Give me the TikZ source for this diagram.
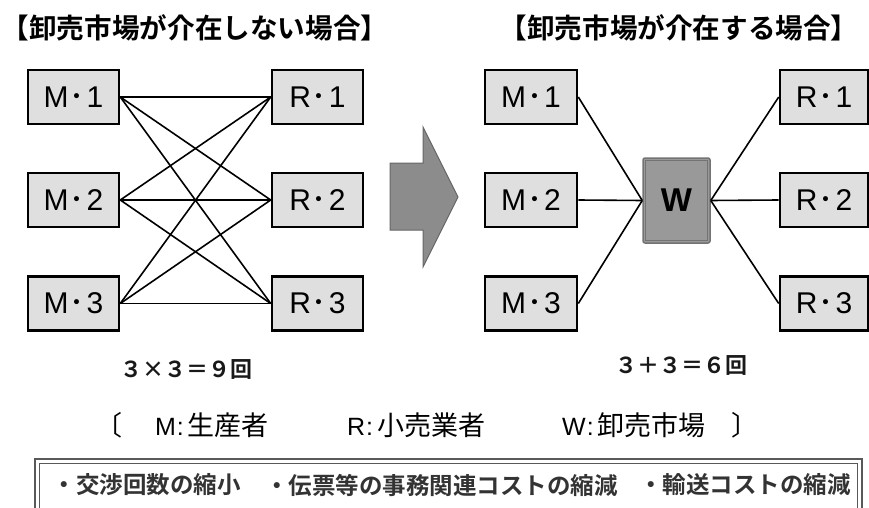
\documentclass[tikz,border=0pt]{standalone}
\usepackage{fontspec}
\newfontfamily\jp{Noto Sans CJK JP}
\newfontfamily\jpb{Noto Sans CJK JP Bold}
\newfontfamily\lat{Liberation Sans}
\newcommand{\lbl}[2]{{\lat\fontsize{30}{30}\selectfont #1}\kern1pt{\jp\fontsize{30}{30}\selectfont ･}\kern2pt{\lat\fontsize{30}{30}\selectfont #2}}
\begin{document}
\begin{tikzpicture}[x=1pt,y=-1pt,
  box/.style={draw=black,line width=2.6pt,fill=gray!25,minimum width=91pt,minimum height=54pt,inner sep=0pt},
  link/.style={draw=black,line width=1.6pt},
  title/.style={font=\jpb\fontsize{27.6}{30}\selectfont,inner sep=0pt},
  count/.style={font=\jpb\fontsize{22}{26}\selectfont,inner sep=0pt,text=black!90},
  legend/.style={font=\jp\fontsize{27}{28}\selectfont,inner sep=0pt},
  merit/.style={font=\jpb\fontsize{23.5}{26}\selectfont,inner sep=0pt,text=black!80}]
\useasboundingbox (0,0) rectangle (869,508);
\clip (0,0) rectangle (869,508);
% titles
\node[title] (t1) at (195,28) {【卸売市場が介在しない場合】};
\node[title] (t2) at (679,28) {【卸売市場が介在する場合】};
% left group
\node[box] (LM1) at (73.5,97) {\lbl{M}{1}};
\node[box] (LM2) at (73.5,200) {\lbl{M}{2}};
\node[box] (LM3) at (73.5,303.5) {\lbl{M}{3}};
\node[box] (LR1) at (317.5,97) {\lbl{R}{1}};
\node[box] (LR2) at (317.5,200) {\lbl{R}{2}};
\node[box] (LR3) at (317.5,303.5) {\lbl{R}{3}};
\foreach \i in {1,2,3}{\foreach \j in {1,2,3}{\draw[link] (LM\i.east) -- (LR\j.west);}}
% arrow
\filldraw[fill=black!45,draw=black!60,line width=1pt] (390,163) -- (423,163) -- (423,127) -- (458,197) -- (423,267) -- (423,230) -- (390,230) -- cycle;
% right group
\node[box,minimum width=92pt] (RM1) at (531,97) {\lbl{M}{1}};
\node[box,minimum width=92pt] (RM2) at (531,200) {\lbl{M}{2}};
\node[box,minimum width=92pt] (RM3) at (531,303.5) {\lbl{M}{3}};
\node[box,minimum width=88pt] (RR1) at (824,97) {\lbl{R}{1}};
\node[box,minimum width=88pt] (RR2) at (824,200) {\lbl{R}{2}};
\node[box,minimum width=88pt] (RR3) at (824,303.5) {\lbl{R}{3}};
\node[draw=black!55,line width=1.5pt,fill=black!40,rounded corners=2pt,minimum width=67pt,minimum height=85pt,inner sep=0pt,font=\lat\bfseries\fontsize{33}{34}\selectfont] (W) at (676.5,200.5) {W};
\draw[black!55,line width=1pt] ([shift={(3.5,3.5)}]W.north west) rectangle ([shift={(-3.5,-3.5)}]W.south east);
\foreach \i in {1,2,3}{\draw[link] (RM\i.east) -- (W.west); \draw[link] (W.east) -- (RR\i.west);}
% counts
\node[count] (c1) at (186,369) {３×３＝９回};
\node[count] (c2) at (681,365) {３＋３＝６回};
% legend
\node[legend] (lb) at (109,425) {〔};
\node[legend] (l1) at (212,425) {{\lat\fontsize{25}{28}\selectfont M\kern1pt:\kern4pt}生産者};
\node[legend] (l2) at (416,425) {{\lat\fontsize{25}{28}\selectfont R\kern1pt:\kern4pt}小売業者};
\node[legend] (l3) at (634,425) {{\lat\fontsize{25}{28}\selectfont W\kern1pt:\kern4pt}卸売市場};
\node[legend] (rb) at (745,425) {〕};
% merits box
\draw[black!65,line width=2pt] (35,459) rectangle (862,530);
\draw[black!65,line width=0.8pt] (39.5,463.5) rectangle (857.5,530);
\node[merit] (m1) at (146.5,485) {・交渉回数の縮小};
\node[merit] (m2) at (441.5,485) {・伝票等の事務関連コストの縮減};
\node[merit] (m3) at (745,485) {・輸送コストの縮減};
\end{tikzpicture}
\end{document}
